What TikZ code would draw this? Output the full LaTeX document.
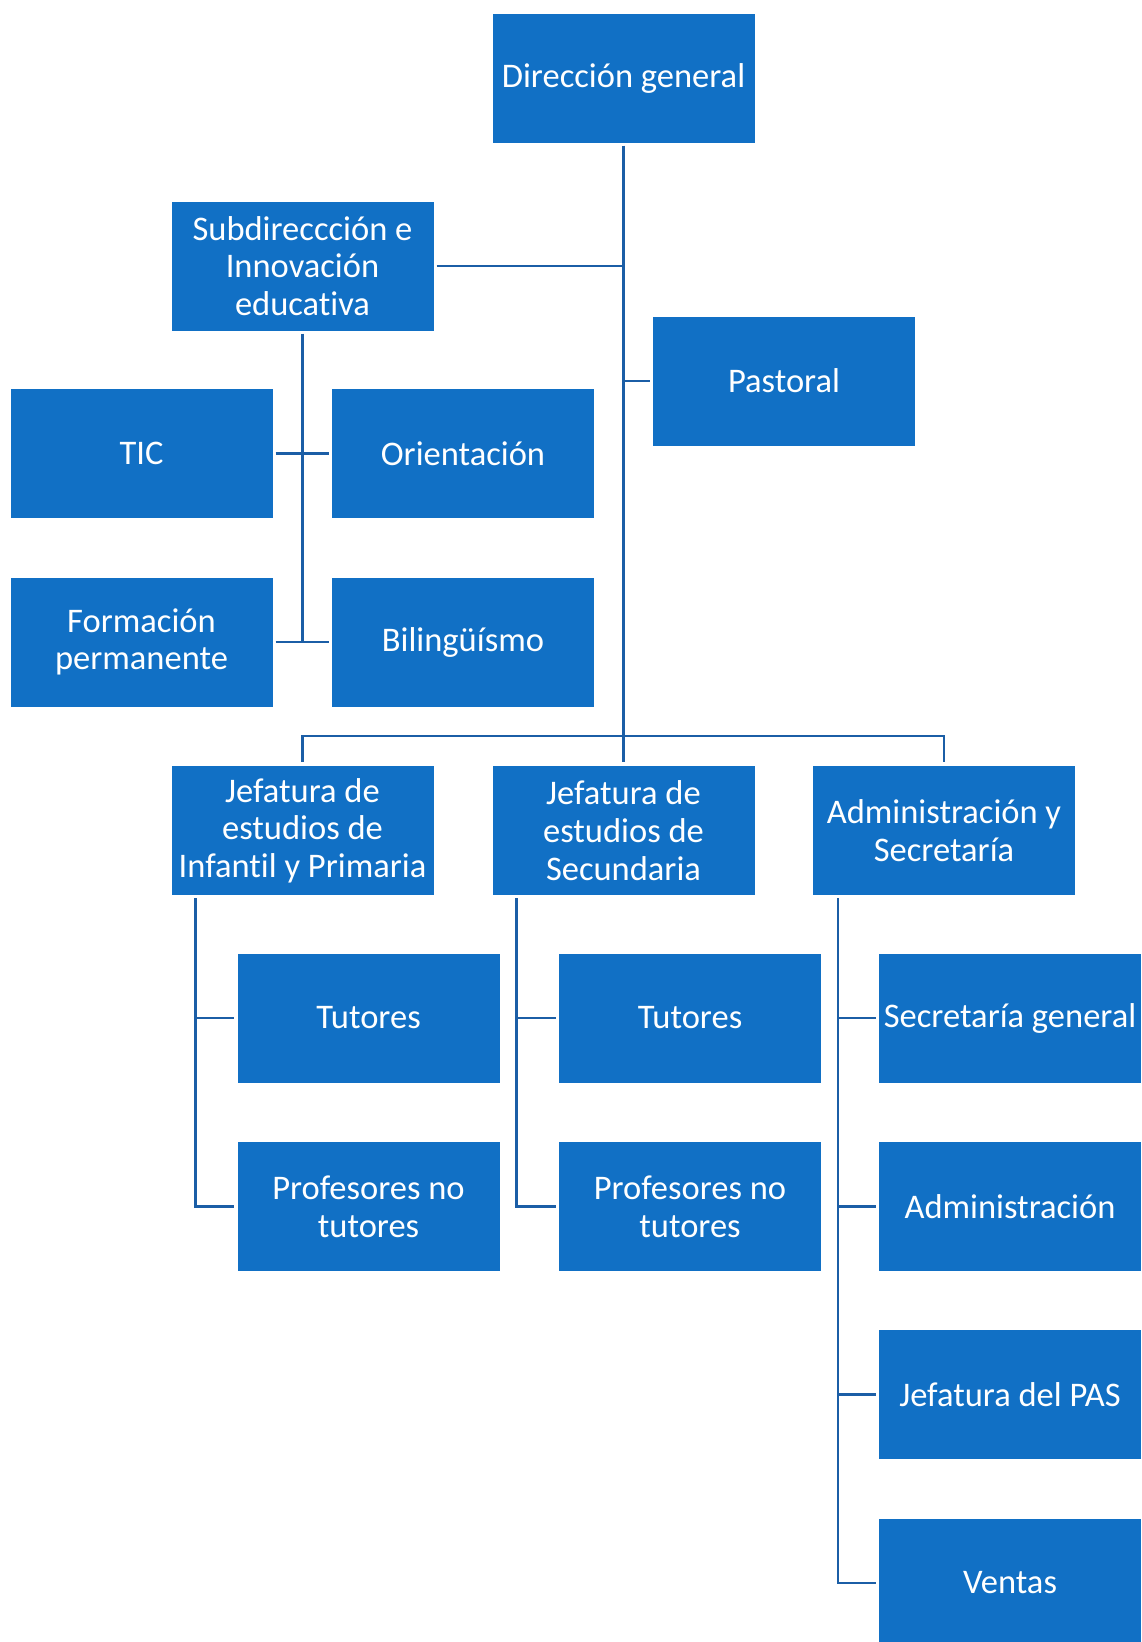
\documentclass[tikz,border=0pt]{standalone}
\usepackage{fontspec}
\setmainfont[Ligatures=NoCommon]{Carlito}
\usetikzlibrary{calc}
\definecolor{boxblue}{HTML}{1170C5}
\definecolor{lineblue}{HTML}{1B5EA6}
\begin{document}
\begin{tikzpicture}[x=1pt,y=-1pt,
  orgbox/.style={fill=boxblue, text=white, minimum width=262pt, minimum height=129pt,
    inner sep=2pt, align=center, font=\fontsize{34.5}{37.7}\selectfont},
  link/.style={draw=lineblue, line width=2.6pt}]
\clip (0,0) rectangle (1142,1642);
\fill[white] (0,0) rectangle (1142,1642);
\node[orgbox] (dg) at (623.5,78) {Dirección general};
\node[orgbox] (sub) at (302.5,266) {Subdireccción e\\Innovación\\educativa};
\node[orgbox] (past) at (784,381) {Pastoral};
\node[orgbox] (tic) at (141.5,453.5) {TIC};
\node[orgbox] (ori) at (463,453.5) {Orientación};
\node[orgbox] (form) at (141.5,642) {Formación\\permanente};
\node[orgbox] (bil) at (463,642) {Bilingüísmo};
\node[orgbox] (jinf) at (302.5,830.5) {Jefatura de\\estudios de\\Infantil y Primaria};
\node[orgbox] (jsec) at (623.5,830.5) {Jefatura de\\estudios de\\Secundaria};
\node[orgbox] (adm) at (944,830.5) {Administración y\\Secretaría};
\node[orgbox] (tut1) at (368.5,1018) {Tutores};
\node[orgbox] (prof1) at (368.5,1206.5) {Profesores no\\tutores};
\node[orgbox] (tut2) at (690,1018) {Tutores};
\node[orgbox] (prof2) at (690,1206.5) {Profesores no\\tutores};
\node[orgbox] (secg) at (1010,1018) {Secretaría general};
\node[orgbox] (admn) at (1010,1206.5) {Administración};
\node[orgbox] (pas) at (1010,1394.5) {Jefatura del PAS};
\node[orgbox] (ven) at (1010,1583) {Ventas};
% trunk
\draw[link] ([yshift=-3pt]dg.south) -- ([yshift=4pt]jsec.north);
\draw[link] ([xshift=3pt]sub.east) -- (sub.east -| dg.south);
\draw[link] ([xshift=-3pt]past.west) -- (past.west -| dg.south);
% subdireccion group
\draw[link] ([yshift=-3pt]sub.south) -- (sub.south |- bil.west);
\draw[link] ([xshift=3pt]tic.east) -- ([xshift=-3pt]ori.west);
\draw[link] ([xshift=3pt]form.east) -- ([xshift=-3pt]bil.west);
% bus
\coordinate (bus) at (623.5,736);
\draw[link] ([yshift=4pt]jinf.north) |- (bus) -| ([yshift=4pt]adm.north);
% jefatura infantil
\coordinate (li) at ([xshift=24pt,yshift=-3pt]jinf.south west);
\draw[link] (li) |- ([xshift=-3pt]prof1.west);
\draw[link] (li |- tut1.west) -- ([xshift=-3pt]tut1.west);
% jefatura secundaria
\coordinate (ls) at ([xshift=24pt,yshift=-3pt]jsec.south west);
\draw[link] (ls) |- ([xshift=-3pt]prof2.west);
\draw[link] (ls |- tut2.west) -- ([xshift=-3pt]tut2.west);
% administracion
\coordinate (la) at ([xshift=25pt,yshift=-3pt]adm.south west);
\draw[link] (la) |- ([xshift=-3pt]ven.west);
\draw[link] (la |- secg.west) -- ([xshift=-3pt]secg.west);
\draw[link] (la |- admn.west) -- ([xshift=-3pt]admn.west);
\draw[link] (la |- pas.west) -- ([xshift=-3pt]pas.west);
\end{tikzpicture}
\end{document}
